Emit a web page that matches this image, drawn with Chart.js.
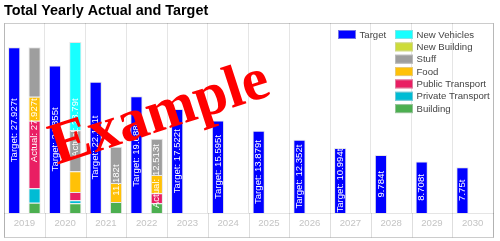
<!DOCTYPE html>
<html>
<head>
<meta charset="utf-8">
<script src="https://cdn.jsdelivr.net/npm/chart.js@4.4.1/dist/chart.umd.min.js"></script>
<style>
  html, body { margin: 0; padding: 0; background: #fff; }
  #wrap { width: 500px; height: 241px; }
</style>
</head>
<body>
<div id="wrap"><canvas id="chart" width="500" height="241"></canvas></div>
<script>
// Yearly emissions in tonnes: a reduction target and the actual breakdown.
const years = ['2019', '2020', '2021', '2022', '2023', '2024', '2025', '2026', '2027', '2028', '2029', '2030'];
const target = [27.927, 24.855, 22.121, 19.688, 17.522, 15.595, 13.879, 12.352, 10.994, 9.784, 8.708, 7.75];
const building = [1.78, 1.68, 1.9, 1.68, null, null, null, null, null, null, null, null];
const privateTransport = [2.42, 0.5, null, null, null, null, null, null, null, null, null, null];
const publicTransport = [11.37, 1.4, null, 1.68, null, null, null, null, null, null, null, null];
const food = [4.04, 3.48, 3.2, 3.08, null, null, null, null, null, null, null, null];
const stuff = [8.317, 6.9, 6.082, 6.073, null, null, null, null, null, null, null, null];
const newBuilding = [null, null, null, null, null, null, null, null, null, null, null, null];
const newVehicles = [null, 14.83, null, null, null, null, null, null, null, null, null, null];

const FONT = "'Liberation Sans', Arial, Helvetica, sans-serif";
Chart.defaults.font.family = FONT;

const EDGE = 'rgba(210,210,210,0.55)';
function bar(label, data, color, stack) {
  return { label, data, stack, backgroundColor: color, borderColor: EDGE, borderWidth: 1,
           categoryPercentage: 1, barPercentage: 0.6 };
}

const fmt = v => (+v.toFixed(3)) + 't';

// White value labels written up the middle of each bar / stack;
// the prefix is dropped when the full text would not fit.
const barLabels = {
  id: 'barLabels',
  afterDatasetsDraw(chart) {
    const { ctx, scales: { y } } = chart;
    ctx.save();
    ctx.font = '9.6px ' + FONT;
    ctx.fillStyle = '#fff';
    ctx.textAlign = 'center';
    ctx.textBaseline = 'middle';
    const base = y.getPixelForValue(0);
    const draw = (x, total, prefix, pad) => {
      const top = y.getPixelForValue(total);
      const h = base - top;
      let text = prefix + fmt(total);
      if (ctx.measureText(text).width > h - pad) text = fmt(total);
      ctx.save();
      ctx.translate(x, (top + base) / 2);
      ctx.rotate(-Math.PI / 2);
      ctx.fillText(text, 0, 0);
      ctx.restore();
    };
    const tMeta = chart.getDatasetMeta(0);
    years.forEach((yr, i) => {
      if (target[i] != null) draw(tMeta.data[i].x, target[i], 'Target: ', 1);
      let sum = 0, x = null;
      for (let d = 1; d < chart.data.datasets.length; d++) {
        const v = chart.data.datasets[d].data[i];
        if (v != null) { sum += v; x = chart.getDatasetMeta(d).data[i].x; }
      }
      if (sum > 0) draw(x, sum, 'Actual: ', 8);
    });
    ctx.restore();
  }
};

// Frame round the plot and the divider lines through the year labels.
const frame = {
  id: 'frame',
  afterDraw(chart) {
    const { ctx, chartArea: a, scales: { x } } = chart;
    const bottom = 237.5;
    ctx.save();
    ctx.strokeStyle = 'rgba(0,0,0,0.13)';
    ctx.lineWidth = 1;
    const n = x.ticks.length;
    const w = (a.right - a.left) / n;
    ctx.beginPath();
    for (let i = 0; i <= n; i++) {
      const px = Math.round(a.left + i * w) + 0.5;
      ctx.moveTo(px, Math.round(a.bottom));
      ctx.lineTo(px, bottom);
    }
    ctx.stroke();
    ctx.strokeStyle = 'rgba(0,0,0,0.2)';
    ctx.strokeRect(Math.round(a.left) + 0.5, Math.round(a.top) + 0.5,
                   Math.round(a.right) - Math.round(a.left), bottom - Math.round(a.top) - 0.5);
    ctx.restore();
  }
};

// Legend: Target on its own, the categories in a column next to it (top of stack first).
const sideLegend = {
  id: 'sideLegend',
  afterDatasetsDraw(chart) {
    const { ctx } = chart;
    const ds = chart.data.datasets;
    ctx.save();
    ctx.font = '9.6px ' + FONT;
    ctx.textBaseline = 'middle';
    ctx.textAlign = 'left';
    const item = (d, bx, by) => {
      ctx.fillStyle = d.backgroundColor;
      ctx.fillRect(bx, by, 18, 9);
      ctx.strokeStyle = EDGE;
      ctx.strokeRect(bx + 0.5, by + 0.5, 17, 8);
      ctx.fillStyle = '#444';
      ctx.fillText(d.label, bx + 21.5, by + 5);
    };
    item(ds[0], 338, 30);
    const rest = ds.slice(1).reverse();
    rest.forEach((d, k) => item(d, 395, 30 + k * 12.35));
    ctx.restore();
  }
};

// Red "Example" stamp across the chart.
const stamp = {
  id: 'stamp',
  afterDraw(chart) {
    const { ctx } = chart;
    ctx.save();
    ctx.translate(160, 115);
    ctx.rotate(-18 * Math.PI / 180);
    ctx.font = "bold 60px 'Liberation Serif', 'Times New Roman', serif";
    ctx.fillStyle = '#ff0000';
    ctx.textAlign = 'center';
    ctx.textBaseline = 'middle';
    ctx.fillText('Example', 0, 0);
    ctx.restore();
  }
};

new Chart(document.getElementById('chart'), {
  type: 'bar',
  data: {
    labels: years,
    datasets: [
      bar('Target', target, '#0000ff', 'target'),
      bar('Building', building, '#4CAF50', 'actual'),
      bar('Private Transport', privateTransport, '#00BCD4', 'actual'),
      bar('Public Transport', publicTransport, '#E91E63', 'actual'),
      bar('Food', food, '#FFC107', 'actual'),
      bar('Stuff', stuff, '#9E9E9E', 'actual'),
      bar('New Building', newBuilding, '#CDDC39', 'actual'),
      bar('New Vehicles', newVehicles, '#18FFFF', 'actual')
    ]
  },
  options: {
    responsive: false,
    animation: false,
    devicePixelRatio: 1,
    layout: { padding: { left: 4, right: 7, top: 0, bottom: 8.2 } },
    plugins: {
      legend: { display: false },
      tooltip: { enabled: false },
      title: {
        display: true,
        text: 'Total Yearly Actual and Target',
        align: 'start',
        color: '#000',
        font: { family: FONT, size: 14.4, weight: 'bold' },
        padding: { top: 2.4, bottom: 3.3 }
      }
    },
    scales: {
      x: {
        grid: { offset: true, color: 'rgba(0,0,0,0.1)', drawTicks: false },
        border: { color: 'rgba(0,0,0,0.1)' },
        ticks: { color: '#c4c4c4', font: { size: 9.6 }, padding: 4 }
      },
      y: { display: false, stacked: true, min: 0, max: 32 }
    }
  },
  plugins: [barLabels, frame, sideLegend, stamp]
});
</script>
</body>
</html>
